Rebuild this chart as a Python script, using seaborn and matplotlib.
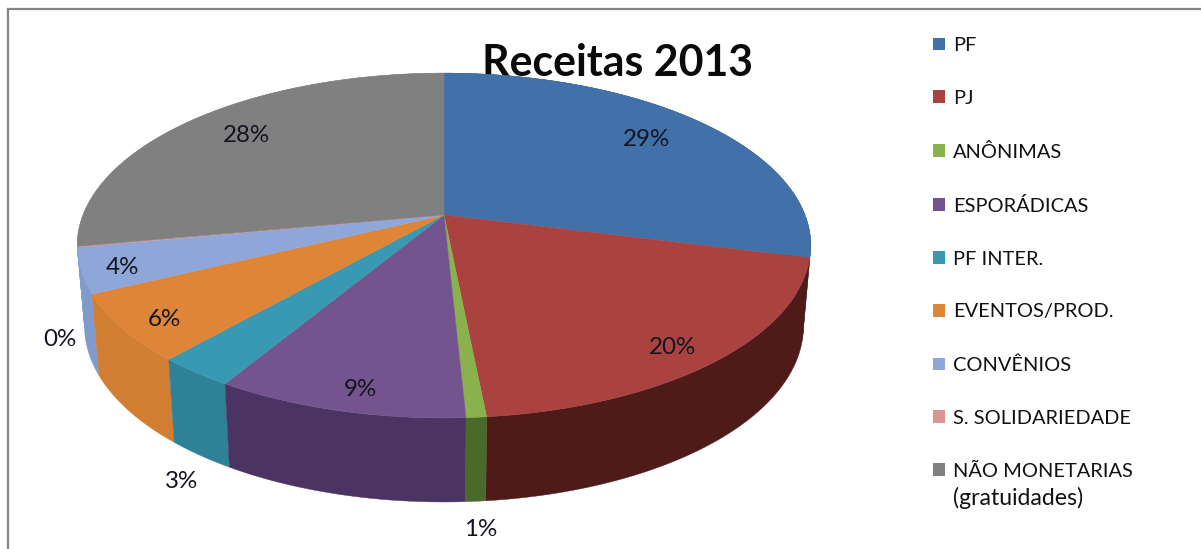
import numpy as np
import matplotlib
matplotlib.use("Agg")
import matplotlib.pyplot as plt
from matplotlib.patches import Patch
import seaborn as sns

# ---- data -----------------------------------------------------------------
categories = ["PF", "PJ", "ANÔNIMAS", "ESPORÁDICAS", "PF INTER.",
              "EVENTOS/PROD.", "CONVÊNIOS", "S. SOLIDARIEDADE",
              "NÃO MONETARIAS"]
last_category_note = "(gratuidades)"
shares = [28.95, 19.5, 0.75, 9.4, 2.9, 6.3, 4.2, 0.1, 27.9]
title = "Receitas 2013"

# ---- style ----------------------------------------------------------------
top_colors = ["#4271a9", "#aa4340", "#8ab24c", "#74548f", "#3999b2",
              "#df8537", "#8ea7d8", "#d99694", "#808080"]
side_colors = ["#2c4a70", "#4f1b19", "#4a6a2c", "#4b3364", "#2f8198",
               "#d17e33", "#7f9bcb", "#7f9bcb", "#7f9bcb"]
label_xy = [(646, 140), (673, 347), (481, 530), (360, 389), (182, 481),
            (164, 319), (122, 267), (60, 340), (246, 136)]

W, H = 1201, 549
CX, CY, A, B, K = 444, 215, 361, 167, 0.177
DEPTH, STRETCH, SHRINK = 80, 1.02, 0.98

sns.set_theme(style="white")
plt.rcParams["font.family"] = ["Lato", "DejaVu Sans"]
palette = sns.color_palette(top_colors)

fig = plt.figure(figsize=(W / 100, H / 100), dpi=100, facecolor="white")
ax = fig.add_axes([8 / W, 0, (W - 8) / W, (H - 9) / H])
ax.set_xlim(8, W)
ax.set_ylim(H, 9)
ax.set_xticks([])
ax.set_yticks([])
sns.despine(ax=ax, top=False, left=False, right=True, bottom=True)
for s in ("top", "left"):
    ax.spines[s].set_color("#858585")
    ax.spines[s].set_linewidth(1.6)


def rim(theta):
    """Perspective projection of the disc rim; theta clockwise from 12 o'clock."""
    u, v = np.sin(theta), -np.cos(theta)
    w = 1 - K * v
    return CX + A * u / w, CY + B * v / w


def lower(x, y):
    return CX + SHRINK * (x - CX), CY + DEPTH + STRETCH * (y - CY)


fractions = np.cumsum([0] + shares) / sum(shares)
edges = 2 * np.pi * fractions
mids = (edges[:-1] + edges[1:]) / 2

ax.text(617, 76, title, ha="center", va="baseline", fontsize=30.9,
        fontweight="bold", color="#0a0a0a", zorder=1)

# side walls, farthest from the viewer first, then top faces
for i in np.argsort(-np.abs(mids - np.pi)):
    t = np.linspace(edges[i], edges[i + 1], 160)
    x, y = rim(t)
    xb, yb = lower(x, y)
    ax.fill(np.r_[x, xb[::-1]], np.r_[y, yb[::-1]], color=side_colors[i],
            lw=0.3, zorder=2)
for i in range(len(shares)):
    t = np.linspace(edges[i], edges[i + 1], 160)
    x, y = rim(t)
    ax.fill(np.r_[CX, x], np.r_[CY, y], color=palette[i], lw=0.3, zorder=3)

for v, (lx, ly) in zip(shares, label_xy):
    ax.text(lx, ly, f"{round(v)}%", ha="center", va="center", fontsize=17.4,
            color="#141420", zorder=5)

handles = [Patch(facecolor=c, edgecolor="none") for c in palette]
leg = ax.legend(handles, categories, loc="upper left",
                bbox_to_anchor=(933, 37), bbox_transform=ax.transData,
                frameon=False, fontsize=14.4, labelcolor="#111111",
                handlelength=0.6, handleheight=0.6, handletextpad=0.4,
                labelspacing=1.795, borderpad=0, borderaxespad=0)
leg.set_zorder(6)
ax.text(953, 498, last_category_note, ha="left", va="center", fontsize=16.6,
        color="#111111", zorder=6)

fig.savefig("out.png", dpi=100)
